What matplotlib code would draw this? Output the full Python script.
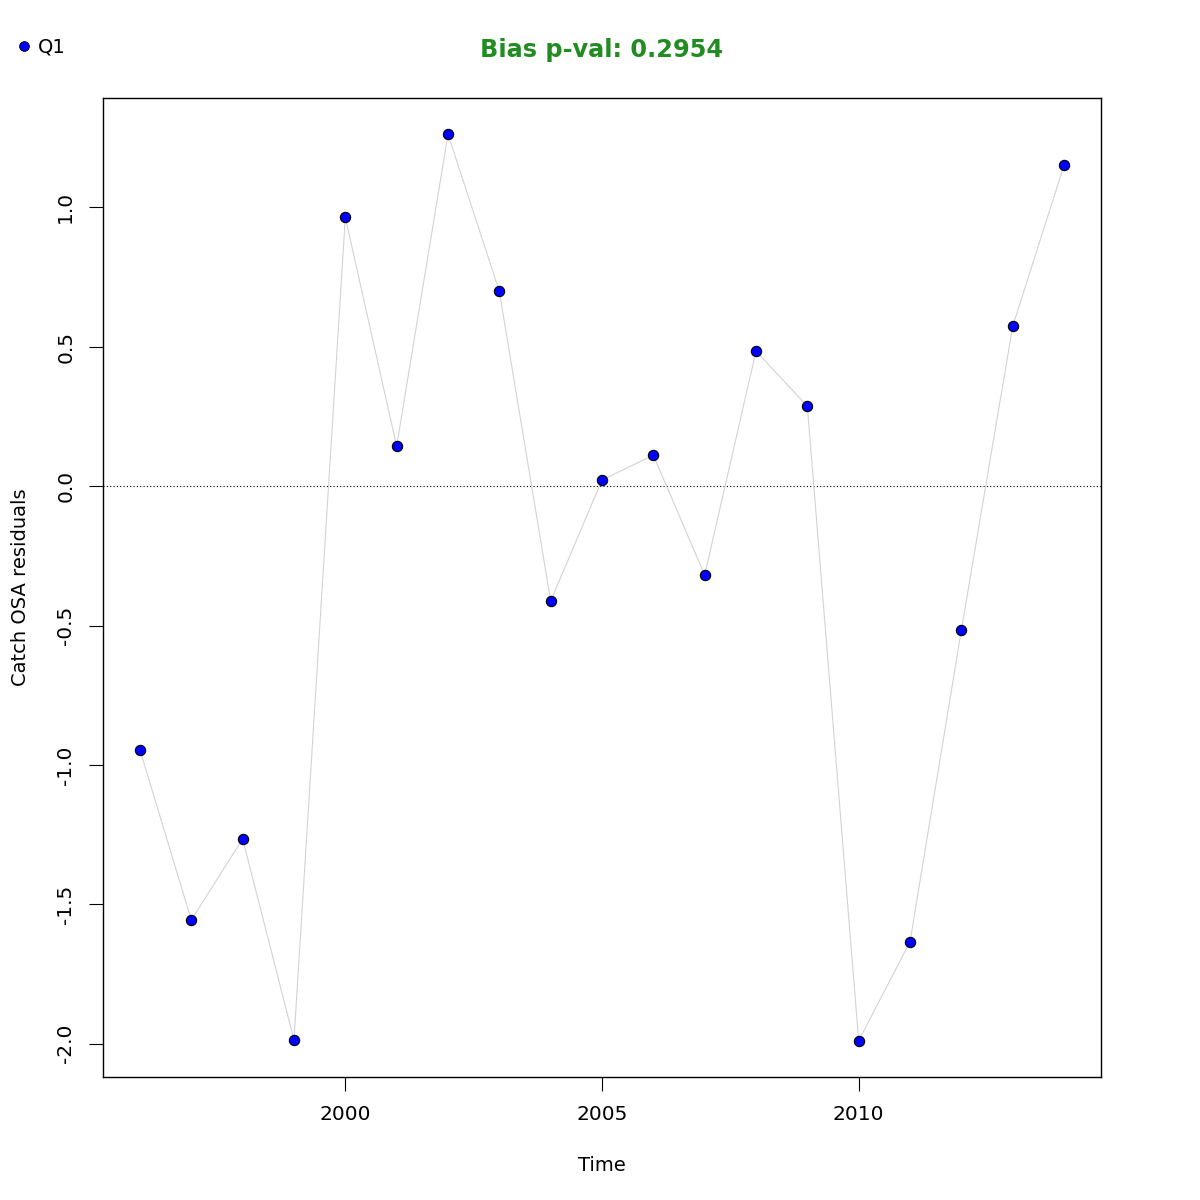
import matplotlib
matplotlib.use("Agg")
import matplotlib.pyplot as plt
from matplotlib.lines import Line2D

years = [1996, 1997, 1998, 1999, 2000, 2001, 2002, 2003, 2004, 2005,
         2006, 2007, 2008, 2009, 2010, 2011, 2012, 2013, 2014]
residuals = [-0.946, -1.556, -1.265, -1.986, 0.964, 0.143, 1.262, 0.699, -0.412, 0.022,
             0.111, -0.319, 0.484, 0.287, -1.989, -1.634, -0.516, 0.573, 1.151]
xticks = [2000, 2005, 2010]
yticks = [-2.0, -1.5, -1.0, -0.5, 0.0, 0.5, 1.0]
title = "Bias p-val: 0.2954"
series_name = "Q1"

plt.rcParams['font.family'] = ['DejaVu Sans']
fig = plt.figure(figsize=(12, 12), dpi=100)
ax = fig.add_axes([103/1200, 1 - 1077/1200, (1101-103)/1200, (1077-98)/1200])

ax.plot(years, residuals, color='#D3D3D3', lw=0.8, zorder=2)
ax.axhline(0, color='black', lw=0.8, ls=(0, (1, 2)), zorder=1)
ax.scatter(years, residuals, s=55, c='blue', edgecolors='black', linewidths=0.8, zorder=3)

x0, x1 = min(years), max(years)
dx = (x1 - x0) * 0.04
ax.set_xlim(x0 - dx, x1 + dx)
y0, y1 = min(residuals), max(residuals)
dy = (y1 - y0) * 0.04
ax.set_ylim(y0 - dy, y1 + dy)

ax.set_xticks(xticks)
ax.set_xticklabels([str(t) for t in xticks])
ax.set_yticks(yticks)
ax.set_yticklabels([f"{t:.1f}" for t in yticks], rotation=90, va='center')
ax.tick_params(direction='out', length=10, width=0.8, labelsize=14.5, pad=10)
for s in ax.spines.values():
    s.set_linewidth(1.0)

ax.set_xlabel("Time", fontsize=14, labelpad=23)
ax.set_ylabel("Catch OSA residuals", fontsize=14, labelpad=19)

fig.text(602/1200, 1 - 50/1200, title, color='#228B22', fontsize=17.3, fontweight='bold',
         ha='center', va='center')

handle = Line2D([], [], marker='o', ls='none', markerfacecolor='blue',
                markeredgecolor='black', markeredgewidth=0.6, markersize=7)
fig.legend([handle], [series_name], loc='center left', bbox_to_anchor=(5/1200, 1 - 47/1200),
           frameon=False, fontsize=14, handletextpad=0.2, handlelength=1.0, borderpad=0)

fig.savefig("out.png", dpi=100)
